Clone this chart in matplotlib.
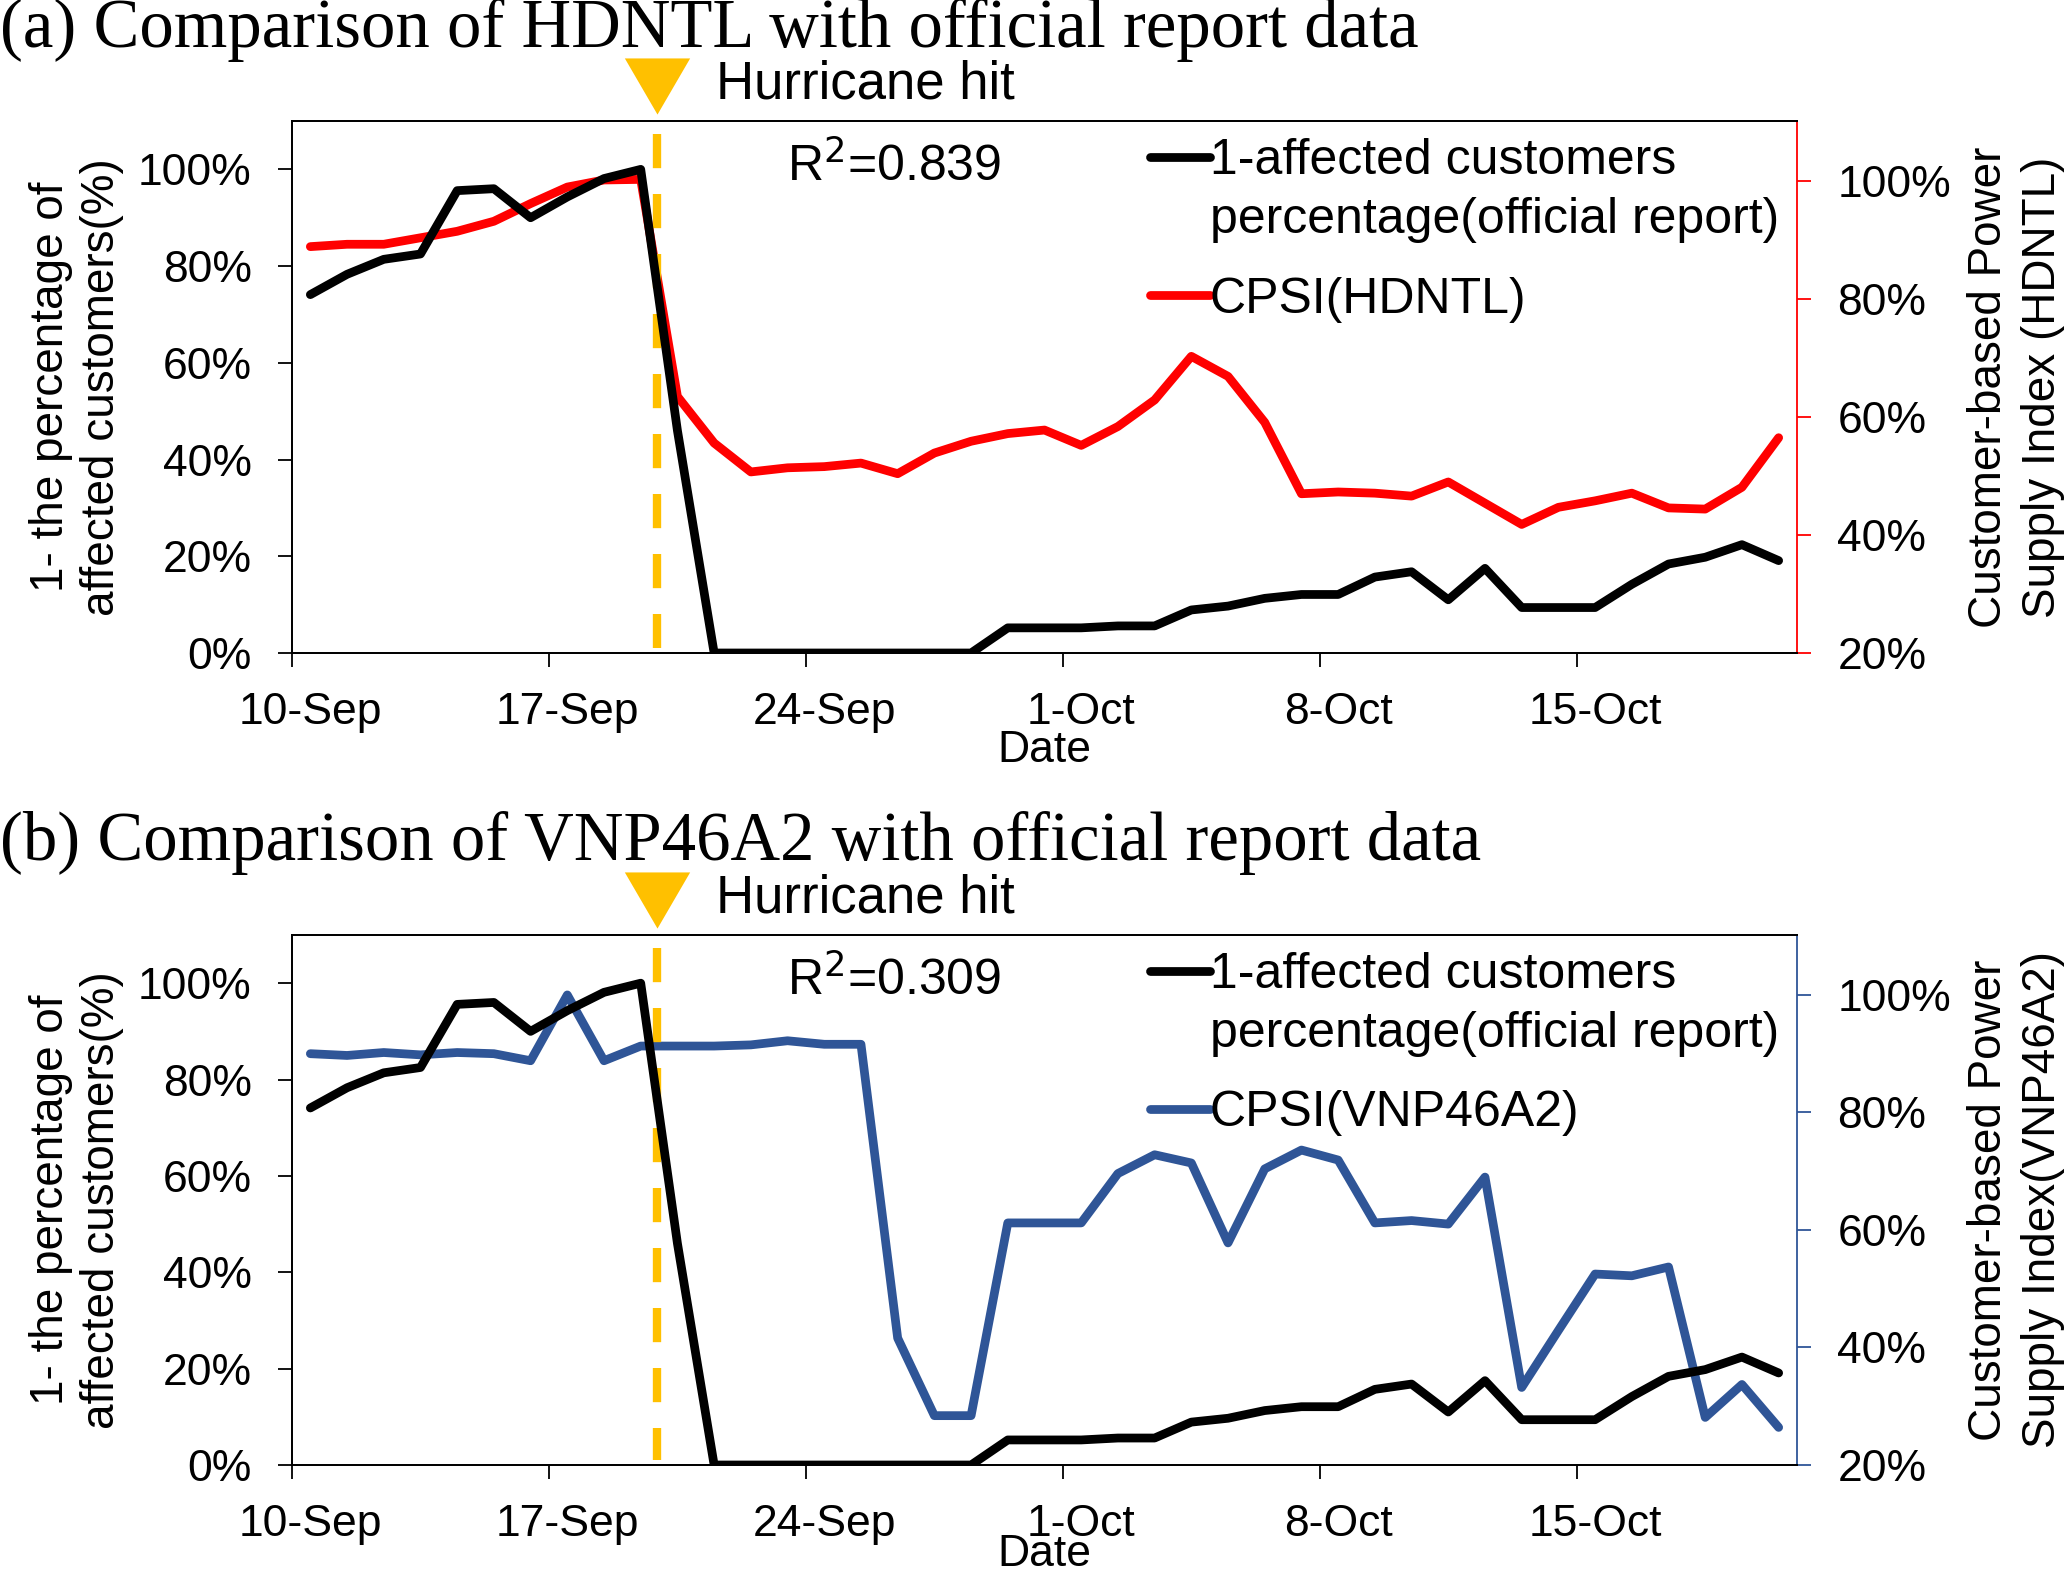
import numpy as np
import matplotlib
matplotlib.use("Agg")
import matplotlib.pyplot as plt
from matplotlib.ticker import PercentFormatter, FixedLocator

plt.rcParams['font.family'] = ['Liberation Sans', 'DejaVu Sans']

# ---------------- data ----------------
n_days = 41  # 10-Sep .. 20-Oct
tick_labels = ['10-Sep', '17-Sep', '24-Sep', '1-Oct', '8-Oct', '15-Oct']
tick_days = [0, 7, 14, 21, 28, 35]
hurricane_day = 9.93

official = [74.1, 78.3, 81.4, 82.5, 95.6, 96.0, 90.0, 94.3, 98.1, 100.0,
            46.0, 0, 0, 0, 0, 0, 0, 0, 0, 5.2,
            5.2, 5.2, 5.6, 5.6, 8.9, 9.7, 11.3, 12.1, 12.1, 15.7,
            16.8, 11.0, 17.5, 9.4, 9.4, 9.4, 14.2, 18.4, 19.8, 22.4, 19.1]

cpsi_hdntl = [88.9, 89.3, 89.3, 90.4, 91.5, 93.2, 96.2, 99.0, 100.2, 100.3,
              63.5, 55.6, 50.7, 51.4, 51.6, 52.2, 50.4, 53.9, 55.9, 57.2,
              57.8, 55.2, 58.4, 62.9, 70.3, 66.9, 59.1, 47.0, 47.3, 47.1,
              46.6, 49.0, 45.4, 41.8, 44.7, 45.8, 47.1, 44.6, 44.4, 48.1, 56.5]

cpsi_vnp = [90.0, 89.7, 90.2, 89.8, 90.2, 90.0, 88.8, 100.0, 88.8, 91.3,
            91.3, 91.3, 91.5, 92.2, 91.6, 91.6, 41.6, 28.4, 28.4, 61.2,
            61.2, 61.2, 69.6, 72.8, 71.4, 57.8, 70.4, 73.6, 71.9, 61.2,
            61.6, 61.0, 69.0, 33.2, 42.9, 52.5, 52.2, 53.7, 28.1, 33.7, 26.4]

panels = [
    dict(title='(a) Comparison of HDNTL with official report data',
         series=cpsi_hdntl, name='CPSI(HDNTL)', color='#FF0000',
         r2='R$^2$=0.839',
         rlabel='Customer-based Power\nSupply Index (HDNTL)'),
    dict(title='(b) Comparison of VNP46A2 with official report data',
         series=cpsi_vnp, name='CPSI(VNP46A2)', color='#2F5597',
         r2='R$^2$=0.309',
         rlabel='Customer-based Power\nSupply Index(VNP46A2)'),
]

W, H = 2067, 1578
fig = plt.figure(figsize=(W / 100, H / 100), dpi=100)

axes_px = [(121, 653), (935, 1465)]
title_base = [47, 860]
date_pad = [-2, -8]
left_px, right_px = 292, 1797

x = np.arange(n_days) + 0.5
TICK_FS = 32
LEG_FS = 36
orange = '#FFC000'
tri = [(-1, 0.86), (1, 0.86), (0, -0.86), (-1, 0.86)]

for p, (top, bot), tb, dp in zip(panels, axes_px, title_base, date_pad):
    ax = fig.add_axes([left_px / W, 1 - bot / H, (right_px - left_px) / W, (bot - top) / H])
    ax2 = ax.twinx()
    ax.set_zorder(ax2.get_zorder() + 1)
    ax.patch.set_visible(False)

    # hurricane line (drawn top -> bottom so both ends are dashes)
    ax.plot([hurricane_day, hurricane_day], [107.3, 1.0], color=orange, lw=6,
            dashes=(4.1, 3.1), zorder=1)
    ax.plot([hurricane_day], [117.2], marker=tri, ms=47, color=orange,
            mec='none', clip_on=False, zorder=5)
    ax.text(0.2817, 1.0695, 'Hurricane hit', transform=ax.transAxes,
            fontsize=38, ha='left', va='center')

    # series
    l1, = ax.plot(x, official, color='black', lw=6.3, solid_joinstyle='round',
                  solid_capstyle='round', zorder=3)
    l2, = ax2.plot(x, p['series'], color=p['color'], lw=6.3,
                   solid_joinstyle='round', solid_capstyle='round')

    ax.set_xlim(0, n_days)
    ax.set_ylim(0, 110)
    ax2.set_ylim(20, 110.2)

    ax.yaxis.set_major_locator(FixedLocator([0, 20, 40, 60, 80, 100]))
    ax.yaxis.set_major_formatter(PercentFormatter(decimals=0))
    ax2.yaxis.set_major_locator(FixedLocator([20, 40, 60, 80, 100]))
    ax2.yaxis.set_major_formatter(PercentFormatter(decimals=0))

    ax.set_xticks(tick_days)
    ax.set_xticklabels([])
    ax.set_xticks([d + 0.5 for d in tick_days], minor=True)
    ax.set_xticklabels(tick_labels, minor=True)
    ax.tick_params(axis='x', which='major', length=10, width=1.3, direction='out')
    ax.tick_params(axis='x', which='minor', length=0, pad=28, labelsize=TICK_FS)
    ax.tick_params(axis='y', length=10, width=1.3, pad=19, labelsize=TICK_FS)
    ax2.tick_params(axis='y', length=10, width=1.3, pad=19, labelsize=TICK_FS,
                    color=p['color'], labelcolor='black')

    for s in ax.spines.values():
        s.set_linewidth(1.3)
    for s in ax2.spines.values():
        s.set_linewidth(1.3)
    ax2.spines['right'].set_color(p['color'])
    ax.spines['right'].set_visible(False)

    ax.set_xlabel('Date', fontsize=TICK_FS, labelpad=dp)
    ax.set_ylabel('1- the percentage of\naffected customers(%)', fontsize=33,
                  linespacing=1.2)
    ax.yaxis.set_label_coords(-0.1115, 0.5)
    ax2.set_ylabel(p['rlabel'], fontsize=33, linespacing=1.3)
    ax2.yaxis.set_label_coords(1.113, 0.5)

    ax.text(0.40, 0.915, p['r2'], transform=ax.transAxes, fontsize=LEG_FS,
            ha='center', va='center')

    # legend
    blank = plt.Line2D([], [], color='none')
    leg1 = ax.legend([l1, blank], ['1-affected customers', 'percentage(official report)'],
                     loc='upper left', bbox_to_anchor=(0.570, 0.9675), frameon=False,
                     fontsize=LEG_FS, handlelength=1.2, handletextpad=0.0,
                     borderpad=0, borderaxespad=0, labelspacing=0.25)
    ax.add_artist(leg1)
    ax.legend([l2], [p['name']], loc='upper left', bbox_to_anchor=(0.570, 0.7075),
              frameon=False, fontsize=LEG_FS, handlelength=1.2, handletextpad=0.0,
              borderpad=0, borderaxespad=0)

    fig.text(0.0, 1 - tb / H, p['title'], family=['Liberation Serif', 'DejaVu Serif'],
             fontsize=49.5, ha='left', va='baseline')

fig.savefig('out.png', dpi=100)
